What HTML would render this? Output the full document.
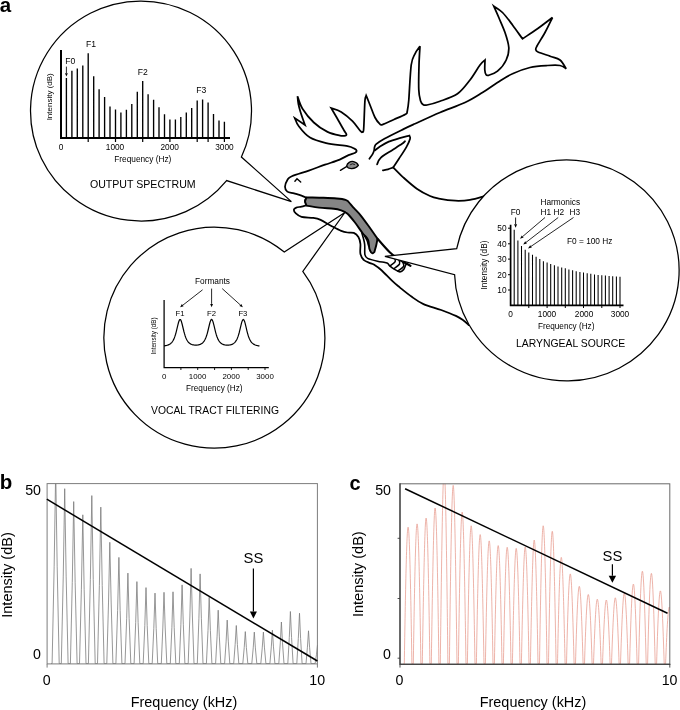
<!DOCTYPE html>
<html lang="en"><head><meta charset="utf-8"><title>Figure</title>
<style>html,body{margin:0;padding:0;background:#fff}svg{display:block}</style></head>
<body>
<svg width="680" height="710" viewBox="0 0 680 710" font-family="'Liberation Sans', sans-serif" fill="#000">
<rect width="680" height="710" fill="#fff"/>
<g fill="none" stroke="#000" stroke-width="1.75" stroke-linejoin="miter" stroke-linecap="round">
<path d="M306.6 197.8C305.8 197.4 303.6 196.3 301.5 195.6C299.4 194.9 296.5 194.1 294.1 193.4C291.7 192.7 288.8 192.7 287.3 191.6C285.8 190.5 285 188.8 285 186.8C285 184.8 286.4 181.6 287.5 179.8C288.6 178.1 288.2 177.8 291.8 176.3C295.4 174.8 303.3 172.5 308.8 170.6C314.3 168.7 319.9 166.5 325 164.7C330.1 162.9 335.8 161.2 339.7 159.6C343.6 158 345.9 156.2 348.5 155.1C351.1 154 353.8 153.6 355.2 152.8C356.6 152.1 356.7 151.3 356.6 150.6C356.5 149.9 355.9 149.3 354.4 148.6C352.9 147.9 352.2 147.2 347.5 146.2C342.8 145.3 332.5 144.6 326.2 143.1C320 141.6 314.6 140.3 310 137.5C305.4 134.7 301.3 129.5 298.8 126.2C296.2 123 295.4 119.5 294.8 118.1L305 125C304.2 122.8 301.6 115.5 300.5 112C299.4 108.5 298.9 106.6 298.4 104C297.9 101.4 297.6 97.5 297.5 96.2C298.3 98.3 299.8 104.4 302.5 108.8C305.2 113.1 309.6 118.6 313.8 122.5C317.9 126.4 323.1 129.7 327.5 131.9C331.9 134.1 337 135 340 135.6C343 136.2 344.4 135.9 345.5 135.6C346.6 135.3 346.6 134.9 346.3 134C346 133.1 345.3 132.7 343.8 130C342.2 127.3 339.1 121.7 337 118C334.9 114.3 332.2 109.8 331.2 108.1C332.9 108.7 337.7 109.7 341.2 111.9C344.8 114.1 349.3 118 352.5 121.2C355.7 124.5 359 129.4 360.6 131.2C362.2 133 361.9 132.2 362.4 132C362.9 131.8 363.3 132.8 363.6 130C363.9 127.2 364.1 120 364.3 115C364.5 110 364.7 103.2 365 100C365.3 96.8 366 96.3 366.2 95.6C366.9 97.2 368.5 101.3 370 105C371.5 108.7 373.4 114.4 375 117.5C376.6 120.6 378.2 122.4 379.5 123.6C380.8 124.8 380.1 125.3 382.5 124.6C384.9 123.9 390.2 121.2 394 119.5C397.8 117.8 403.3 115.5 405.5 114.2C407.7 112.9 406.7 113.9 407.2 111.5C407.7 109.1 408.1 107.8 408.8 100C409.4 92.2 410.2 72.7 411.2 65C412.3 57.3 413.5 56.9 415 53.8C416.5 50.6 419.2 47.5 420 46.2C419.8 49.4 419.2 57.7 419 65C418.8 72.3 418.5 84 418.8 90C419 96 419.9 98.6 420.6 101C421.3 103.4 421.9 103.8 423 104.5C424.1 105.2 424.2 105.5 427 105C429.8 104.5 434.9 103.1 440 101.2C445.1 99.4 452.5 97.3 457.5 93.8C462.5 90.2 466.2 84.8 470 80C473.8 75.2 477.5 68.3 480 65C482.5 61.7 484.2 60.8 485 60C485 61.7 484.6 67.6 484.8 70C485 72.4 485.4 73.7 486 74.6C486.6 75.5 486.6 75.9 488.5 75.3C490.4 74.7 494.5 73.8 497.5 71.2C500.5 68.7 504.4 64 506.2 60C508.1 56 509 52.1 508.8 47.5C508.5 42.9 506.7 37.5 505 32.5C503.3 27.5 500.6 21.9 498.8 17.5C496.9 13.1 494.6 8.1 493.8 6.2C495.2 7.3 499.4 9.4 502.5 12.5C505.6 15.6 509.2 20.6 512.5 25C515.8 29.4 520.8 36.5 522.5 38.8C525 37.1 532.5 32.3 537.5 28.8C542.5 25.2 550 19.4 552.5 17.5C551.2 20 547.6 27.8 545 32.5C542.4 37.2 538.5 43.2 537 46C535.5 48.8 535.6 48.5 535.8 49.5C536 50.5 535.6 50.9 538 52C540.4 53.1 546.3 54.9 550 56.2C553.7 57.6 557.3 57.9 560 60C562.7 62.1 565.2 67.3 566.2 68.8C565.2 68.2 563.1 66 560 65.5C556.9 65 552.5 65.2 547.5 65.5C542.5 65.8 535.8 66.1 530 67.5C524.2 68.9 517.9 71.2 512.5 73.8C507.1 76.2 502.5 79.4 497.5 82.5C492.5 85.6 487.9 89.2 482.5 92.5C477.1 95.8 472.1 99.2 465 102.5C457.9 105.8 448.3 109 440 112.5C431.7 116 421.1 121 415 123.8C408.9 126.5 408.6 126.6 403.5 129.1C398.4 131.6 388.9 136.2 384.4 138.7C379.8 141.2 377.8 142.8 376.2 144.2C374.6 145.6 375 146 374.6 147C374.2 148 374.4 149.2 374.1 150.4C373.8 151.6 373.4 152.7 372.6 154.1C371.8 155.5 369.9 158 369.4 158.8"/>
<path d="M374.9 150.4C375.8 149.8 377.7 148 380 146.5C382.3 145 385.4 143 388.8 141.6C392.2 140.2 397.2 138.9 400.6 137.9C404 136.9 407.9 136.1 409.4 135.7C409.5 136.2 410.6 136.8 410.1 138.7C409.6 140.5 408.3 143.5 406.5 146.8C404.7 150.1 401.3 155.1 399.1 158.5C396.9 161.9 394.2 165.9 393.2 167.4C392.3 167.7 389.7 168.8 388 169.3C386.3 169.8 383.8 170.1 382.9 170.3"/>
<path d="M377.1 164.4C377.7 163.3 378.2 160.1 380.7 157.8C383.1 155.5 388.2 152.7 391.8 150.4C395.4 148.1 399.9 145.3 402.1 143.8C404.3 142.3 404.5 141.6 405 141.2"/>
<path d="M393.2 167.4C394.9 169.1 399.6 174.1 403.5 177.6C407.4 181.1 412.4 185.6 416.8 188.7C421.2 191.8 426.3 194.3 430 196C433.7 197.7 434.6 197.8 438.8 198.6C443 199.4 450.1 200.5 455.3 200.7C460.5 200.9 464.9 200.7 470 199.8C475.1 199 483.3 196.3 486 195.6"/>
<path d="M306.6 197.8C306.4 198.1 305.4 199 305.2 199.6C304.9 200.2 304.9 200.6 305.1 201.5C305.3 202.4 306.4 204.5 306.6 205.1C305.8 205.3 303.2 206.2 301.5 206.6C299.8 207 297.6 207.1 296.3 207.6C295 208.1 294 208.7 293.9 209.6C293.8 210.5 294.3 212 295.6 213.2C296.9 214.4 298.6 216.1 301.5 216.9C304.4 217.7 310 217.4 313.2 217.9C316.4 218.4 317.7 218.6 320.6 219.9C323.6 221.2 327.5 223.9 330.9 225.7C334.3 227.5 338.4 229.8 341.2 230.9C344 232 345.4 232.2 347.5 232.5C349.6 232.8 351.9 232.2 353.8 232.9C355.6 233.7 357.3 235.2 358.4 237C359.5 238.8 360.1 241 360.4 243.8C360.7 246.5 359.8 251 360.4 253.8C361 256.5 362.1 258.4 363.8 260C365.4 261.6 368.3 262.3 370 263.1C371.7 263.9 371.9 263.5 373.8 264.6C375.6 265.8 378.1 267.2 381.2 270C384.4 272.8 389.4 278.3 392.5 281.2C395.6 284.2 396.8 285 400 287.6C403.2 290.2 407.9 294.1 411.8 296.8C415.7 299.6 418.6 301.9 423.5 304.1C428.4 306.3 435.8 308 441.2 310C446.6 312 452.2 314.2 455.9 315.9C459.6 317.6 461.1 318.8 463.2 320.3C465.3 321.8 467.7 324.2 468.6 325"/>
<path d="M294.9 181.2L297 178.7L300.7 182" stroke-width="1.4"/>
<path d="M306.6 197.4C309.4 197.5 318.5 197.6 323.5 197.8C328.5 198 333.1 198.2 336.8 198.5C340.5 198.8 343.6 199.2 345.5 199.8C347.4 200.4 347.1 200.4 348.5 201.8C349.9 203.2 351.9 205.9 354 208.2C356.1 210.5 358.2 212.3 361 215.8C363.8 219.3 368.1 225.4 370.9 229.2C373.6 233 376.4 237.2 377.5 238.8C377.3 239.8 376.8 242.8 376.3 245C375.8 247.2 374.7 250.8 374.4 251.9C374.1 252.1 373.3 253.1 372.8 253.2C372.3 253.3 371.8 253.2 371.2 252.5C370.7 251.8 369.9 250.7 369.4 248.8C368.9 246.8 368.9 242.9 368.4 241C367.9 239.1 367.4 238.7 366.4 237.4C365.4 236.1 364.4 235.5 362.5 233C360.6 230.5 357.3 225.5 355 222.5C352.7 219.5 350.3 216.7 348.8 215C347.2 213.3 346.9 213.3 345.6 212.5C344.3 211.7 343.2 210.9 341.2 210.3C339.2 209.7 337.5 209.2 333.8 208.8C330.1 208.4 323.6 208.1 319.1 207.6C314.6 207.1 308.7 205.9 306.6 205.6C306.4 204.9 305.1 202.9 305.1 201.5C305.1 200.1 306.4 198.1 306.6 197.4Z" fill="#858585" stroke-width="1.9" stroke-linejoin="miter"/>
<path d="M377.5 238.8C379.6 241 386.2 249 390 252.5C393.8 256 396.6 257.8 400 260C403.4 262.2 408.8 264.8 410.5 265.8" stroke-width="2.1"/>
<path d="M361.8 232.8C362.3 234.6 364.1 240.1 364.6 243.8C365.1 247.4 364.4 252.2 364.9 254.6C365.4 257 365.5 257.3 367.6 258.4C369.7 259.5 374.6 260.6 377.5 261.2C380.4 261.9 383.3 262.1 385 262.5C386.7 262.9 386.9 262.8 387.7 263.4C388.5 264 388.8 265.2 390 266.2C391.2 267.3 393.3 268.7 395 269.6C396.7 270.5 398.5 271.9 400 271.9C401.5 271.9 402.9 270.4 403.8 269.4C404.6 268.3 404.9 266.6 405.4 265.6C405.9 264.6 406.6 263.8 406.8 263.4" stroke-width="1.6"/>
<path d="M364.6 236C365 236.8 366.3 238.8 367 240.5C367.7 242.2 368.3 245.1 368.6 246" stroke-width="1.4"/>
<path d="M394.2 256.9C394.4 257.7 395.9 260.1 395.2 261.6C394.5 263.1 390.9 265.1 390 265.8" stroke-width="1.5"/>
<path d="M398.5 258.8C398.7 259.6 400.4 262.3 399.6 263.9C398.9 265.5 394.9 267.8 394 268.6" stroke-width="1.5"/>
<path d="M402.5 261.5C402.7 262.3 404.4 264.8 403.6 266.4C402.8 268 398.8 270.2 397.8 271" stroke-width="1.5"/>
<path d="M346.6 166.2C347.2 162.6 350.6 161 353.6 161.6C356 162.2 357.8 163.8 358.4 165.4C356.6 167.8 354 168.8 351.2 168.6C349 168.4 347.4 167.6 346.6 166.2Z" fill="#8a8a8a" stroke-width="1.3" stroke-linejoin="round"/>
<path d="M350.4 164.6Q352.6 162.9 354.6 164.4" stroke-width="0.8"/>
<path d="M346.9 166.4L340.4 170.4" stroke-width="1.3"/>
</g>
<g fill="#fff" stroke="#000" stroke-width="1.25" stroke-linejoin="miter">
<path d="M226.6 180.6A110.5 110 0 1 1 241.4 157L291.4 201.6Z"/>
<path d="M302.8 271.4A110.5 110.5 0 1 1 284.3 252.1L344.9 212.5Z" fill="none"/>
<path d="M456.7 248.7A112.3 110.5 0 1 1 454.6 274.7L384.9 256.4Z"/>
</g>
<path d="M66.4 77.9V138.1M71.9 70.8V138.1M77.3 68.6V138.1M82.8 65.5V138.1M88.2 53.2V138.1M93.7 76.3V138.1M99.1 89.3V138.1M104.6 97V138.1M110 106.6V138.1M115.5 109.4V138.1M120.9 112.5V138.1M126.4 109.7V138.1M131.8 104.1V138.1M137.3 91.8V138.1M142.7 81V138.1M148.1 94.2V138.1M153.6 99.8V138.1M159 107.2V138.1M164.5 114.3V138.1M169.9 119.6V138.1M175.4 119.6V138.1M180.8 117.1V138.1M186.3 112.5V138.1M191.7 108.1V138.1M197.2 100.4V138.1M202.6 99.5V138.1M208.1 102.6V138.1M213.5 114V138.1M219 120.5V138.1M224.4 121.7V138.1" stroke="#000" stroke-width="1.35" fill="none"/>
<path d="M61 50V139M60.1 138.1H230" stroke="#000" stroke-width="2" fill="none"/>
<path d="M88.2 138V142M115.5 138V142M142.7 138V142M169.9 138V142M197.2 138V142M224.4 138V142M208.1 138V142" stroke="#000" stroke-width="1.2" fill="none"/>
<text x="70.3" y="63.9" font-size="8.6" text-anchor="middle">F0</text>
<text x="91" y="46.9" font-size="8.6" text-anchor="middle">F1</text>
<text x="142.8" y="74.7" font-size="8.6" text-anchor="middle">F2</text>
<text x="201.2" y="93.2" font-size="8.6" text-anchor="middle">F3</text>
<path d="M66.4 66.6L66.4 73.2" stroke="#000" stroke-width="0.85" fill="none"/><path d="M66.4 76.6L65 73.2L67.8 73.2Z" fill="#000"/>
<text x="61" y="150.4" font-size="8.3" text-anchor="middle">0</text>
<text x="115" y="150.4" font-size="8.3" text-anchor="middle">1000</text>
<text x="169.7" y="150.4" font-size="8.3" text-anchor="middle">2000</text>
<text x="224.4" y="150.4" font-size="8.3" text-anchor="middle">3000</text>
<text x="142.8" y="162.4" font-size="8.3" text-anchor="middle">Frequency (Hz)</text>
<text x="142.8" y="188.3" font-size="10.6" text-anchor="middle">OUTPUT SPECTRUM</text>
<text transform="translate(52 96.8) rotate(-90)" font-size="8.0" text-anchor="middle">Intensity (dB)</text>
<path d="M514.2 229.7V305.3M517.9 240.6V305.3M521.5 245.9V305.3M525.2 249.7V305.3M528.8 252.4V305.3M532.5 254.7V305.3M536.1 256.8V305.3M539.8 259.1V305.3M543.4 261.2V305.3M547.1 262.6V305.3M550.7 264.1V305.3M554.4 265.3V305.3M558 266.5V305.3M561.7 267.4V305.3M565.3 268.2V305.3M568.9 269.4V305.3M572.6 270.3V305.3M576.2 271.2V305.3M579.9 272.1V305.3M583.5 272.6V305.3M587.2 273.2V305.3M590.8 273.8V305.3M594.5 274.4V305.3M598.1 275V305.3M601.8 275.3V305.3M605.4 275.6V305.3M609.1 275.9V305.3M612.7 276.2V305.3M616.4 276.5V305.3M620 276.8V305.3" stroke="#000" stroke-width="1.05" fill="none"/>
<path d="M510.6 224.7V306.1M509.8 305.3H623.5" stroke="#000" stroke-width="1.7" fill="none"/>
<path d="M508 290H510.6M508 274.7H510.6M508 259.1H510.6M508 243.8H510.6M508 228.2H510.6M528.8 305V308M547.1 305V308M565.3 305V308M583.5 305V308M601.8 305V308M620 305V308" stroke="#000" stroke-width="1" fill="none"/>
<text x="506.6" y="293" font-size="8.3" text-anchor="end">10</text>
<text x="506.6" y="277.7" font-size="8.3" text-anchor="end">20</text>
<text x="506.6" y="262.1" font-size="8.3" text-anchor="end">30</text>
<text x="506.6" y="246.8" font-size="8.3" text-anchor="end">40</text>
<text x="506.6" y="231.2" font-size="8.3" text-anchor="end">50</text>
<text x="510.6" y="316.6" font-size="8.3" text-anchor="middle">0</text>
<text x="547" y="316.6" font-size="8.3" text-anchor="middle">1000</text>
<text x="584.1" y="316.6" font-size="8.3" text-anchor="middle">2000</text>
<text x="620" y="316.6" font-size="8.3" text-anchor="middle">3000</text>
<text x="566.2" y="328.6" font-size="8.2" text-anchor="middle">Frequency (Hz)</text>
<text x="570.6" y="347.3" font-size="10.4" text-anchor="middle">LARYNGEAL SOURCE</text>
<text x="560.3" y="204.6" font-size="8.3" text-anchor="middle">Harmonics</text>
<text x="515.6" y="215" font-size="8.3" text-anchor="middle">F0</text>
<text x="540.6" y="215" font-size="8.3" text-anchor="start">H1 H2</text>
<text x="569.5" y="215" font-size="8.3" text-anchor="start">H3</text>
<text x="567" y="243.6" font-size="8.3" text-anchor="start">F0 = 100 Hz</text>
<path d="M515.6 217.5L515.6 224.2" stroke="#000" stroke-width="0.9" fill="none"/><path d="M515.6 227.8L514.1 224.2L517.1 224.2Z" fill="#000"/>
<path d="M545 217.5L522.7 236.5" stroke="#000" stroke-width="0.85" fill="none"/><path d="M520 238.8L521.8 235.4L523.6 237.5Z" fill="#000"/>
<path d="M558.2 217.5L526 242.4" stroke="#000" stroke-width="0.85" fill="none"/><path d="M523.2 244.6L525.2 241.3L526.9 243.5Z" fill="#000"/>
<path d="M573.5 217.5L531 246.4" stroke="#000" stroke-width="0.85" fill="none"/><path d="M528 248.4L530.2 245.2L531.8 247.5Z" fill="#000"/>
<text transform="translate(487 265) rotate(-90)" font-size="8.3" text-anchor="middle">Intensity (dB)</text>
<path d="M164.1 299.9V368.1M163.5 367.5H268.8" stroke="#000" stroke-width="1.25" fill="none"/>
<path d="M180.9 367.5V370M197.7 367.5V370M214.6 367.5V370M231.4 367.5V370M248.2 367.5V370M265 367.5V370" stroke="#000" stroke-width="0.9" fill="none"/>
<path d="M164.1 345.9L164.7 345.8L165.3 345.7L165.9 345.6L166.5 345.5L167.1 345.3L167.7 345.1L168.3 344.9L168.9 344.6L169.5 344.3L170.1 343.9L170.7 343.5L171.3 342.9L171.9 342.3L172.5 341.5L173.1 340.5L173.7 339.4L174.3 338L174.9 336.4L175.5 334.5L176.1 332.3L176.7 329.9L177.3 327.4L177.9 324.8L178.5 322.5L179.1 320.7L179.7 319.6L180.3 319.5L180.9 320.2L181.5 321.8L182.1 324L182.7 326.5L183.3 329L183.9 331.5L184.5 333.7L185.1 335.7L185.7 337.4L186.3 338.8L186.9 340L187.5 341L188.1 341.8L188.7 342.5L189.3 343.1L189.9 343.5L190.5 343.9L191.1 344.2L191.7 344.5L192.3 344.7L192.9 344.8L193.5 344.9L194.1 345L194.7 345.1L195.3 345.1L195.9 345.1L196.5 345.1L197.1 345.1L197.7 345L198.3 344.9L198.9 344.8L199.5 344.6L200.1 344.4L200.7 344.1L201.3 343.8L201.9 343.4L202.5 343L203.1 342.4L203.7 341.7L204.3 340.8L204.9 339.8L205.5 338.6L206.1 337.1L206.7 335.3L207.3 333.3L207.9 331L208.5 328.5L209.1 326L209.7 323.5L210.3 321.4L210.9 320L211.5 319.3L212.1 319.7L212.7 320.9L213.3 322.8L213.9 325.1L214.5 327.7L215.1 330.2L215.7 332.6L216.3 334.7L216.9 336.5L217.5 338.1L218.1 339.4L218.7 340.5L219.3 341.4L219.9 342.2L220.5 342.8L221.1 343.3L221.7 343.7L222.3 344.1L222.9 344.3L223.5 344.6L224.1 344.7L224.7 344.9L225.3 345L225.9 345.1L226.5 345.1L227.1 345.2L227.7 345.2L228.3 345.1L228.9 345.1L229.5 345L230.1 344.9L230.7 344.8L231.3 344.6L231.9 344.4L232.5 344.1L233.1 343.8L233.7 343.4L234.3 342.9L234.9 342.3L235.5 341.6L236.1 340.7L236.7 339.7L237.3 338.4L237.9 336.9L238.5 335.1L239.1 333L239.7 330.7L240.3 328.2L240.9 325.6L241.5 323.2L242.1 321.2L242.7 319.9L243.3 319.4L243.9 319.9L244.5 321.2L245.1 323.2L245.7 325.7L246.3 328.2L246.9 330.8L247.5 333.1L248.1 335.2L248.7 337L249.3 338.5L249.9 339.8L250.5 340.9L251.1 341.8L251.7 342.5L252.3 343.1L252.9 343.6L253.5 344.1L254.1 344.4L254.7 344.7L255.3 345L255.9 345.2L256.5 345.4L257.1 345.5L257.7 345.7L258.3 345.8L258.9 345.9L259.5 346" stroke="#000" stroke-width="1.2" fill="none" stroke-linejoin="round"/>
<text x="164.1" y="379.3" font-size="7.9" text-anchor="middle">0</text>
<text x="197.6" y="379.3" font-size="7.9" text-anchor="middle">1000</text>
<text x="231.2" y="379.3" font-size="7.9" text-anchor="middle">2000</text>
<text x="265" y="379.3" font-size="7.9" text-anchor="middle">3000</text>
<text x="214.3" y="391" font-size="8.2" text-anchor="middle">Frequency (Hz)</text>
<text x="215" y="414" font-size="10.3" text-anchor="middle" textLength="128" lengthAdjust="spacingAndGlyphs">VOCAL TRACT FILTERING</text>
<text x="212.5" y="283.6" font-size="8.3" text-anchor="middle">Formants</text>
<text x="180.1" y="315.8" font-size="7.7" text-anchor="middle">F1</text>
<text x="211.6" y="315.8" font-size="7.7" text-anchor="middle">F2</text>
<text x="242.9" y="315.8" font-size="7.7" text-anchor="middle">F3</text>
<path d="M202.6 289.8L182.8 305.2" stroke="#000" stroke-width="0.85" fill="none"/><path d="M180.1 307.3L181.9 304.1L183.6 306.3Z" fill="#000"/>
<path d="M211.6 288.6L211.6 303.9" stroke="#000" stroke-width="0.85" fill="none"/><path d="M211.6 307.3L210.2 303.9L213 303.9Z" fill="#000"/>
<path d="M222.2 288.6L240.4 305" stroke="#000" stroke-width="0.85" fill="none"/><path d="M242.9 307.3L239.4 306.1L241.3 304Z" fill="#000"/>
<text transform="translate(156.2 336) rotate(-90)" font-size="6.3" text-anchor="middle">Intensity (dB)</text>
<text x="-0.3" y="11.9" font-size="20.5" font-weight="bold" fill="#000">a</text>
<text x="-0.2" y="489" font-size="20.5" font-weight="bold" fill="#000">b</text>
<text x="349.4" y="489.5" font-size="20" font-weight="bold" fill="#000">c</text>
<defs><clipPath id="cb"><rect x="47" y="483.5" width="270.5" height="180.5"/></clipPath><clipPath id="cc"><rect x="400" y="483.8" width="270" height="180.4"/></clipPath></defs>
<g clip-path="url(#cb)"><path d="M51.1 663.6L52.1 663.6Q54.4 566.8 55.7 470Q56.9 566.8 59.2 663.6L61.3 663.6Q63.5 576.1 64.7 488.7Q65.9 576.1 68.1 663.6L70.4 663.6Q72.5 582.6 73.7 501.6Q74.9 582.6 77.1 663.6L79.5 663.6Q81.6 589.2 82.8 514.8Q83.9 589.2 86 663.6L88.4 663.6Q90.6 579.6 91.8 495.6Q93 579.6 95.2 663.6L97.5 663.6Q99.6 585.4 100.8 507.1Q102 585.4 104.1 663.6L106.8 663.6Q108.7 603 109.8 542.3Q111 603 112.9 663.6L115.9 663.6Q117.8 610.5 118.9 557.4Q119.9 610.5 121.9 663.6L125 663.6Q126.9 618.4 127.9 573.1Q128.9 618.4 130.8 663.6L134.1 663.6Q135.9 622.6 136.9 581.6Q137.9 622.6 139.8 663.6L143.2 663.6Q145 625.6 146 587.6Q147 625.6 148.8 663.6L152.2 663.6Q154 628.4 155 593.1Q156 628.4 157.7 663.6L161.3 663.6Q163 628 164 592.3Q165 628 166.8 663.6L170.3 663.6Q172.1 627.7 173 591.8Q174 627.7 175.8 663.6L179.3 663.6Q181.1 624.2 182.1 584.9Q183.1 624.2 184.9 663.6L188.2 663.6Q190.1 616 191.1 568.4Q192.2 616 194 663.6L197.3 663.6Q199.1 618.8 200.1 573.9Q201.2 618.8 203 663.6L206.4 663.6Q208.2 630.5 209.2 597.3Q210.2 630.5 211.9 663.6L215.6 663.6Q217.2 636.9 218.2 610.2Q219.2 636.9 220.8 663.6L224.6 663.6Q226.3 641.9 227.2 620.1Q228.2 641.9 229.8 663.6L233.7 663.6Q235.3 644.5 236.3 625.5Q237.2 644.5 238.8 663.6L242.8 663.6Q244.4 647.6 245.3 631.6Q246.2 647.6 247.8 663.6L251.8 663.6Q253.4 647.9 254.3 632.1Q255.2 647.9 256.8 663.6L260.8 663.6Q262.4 647.9 263.4 632.1Q264.3 647.9 265.9 663.6L269.9 663.6Q271.5 646.9 272.4 630.2Q273.3 646.9 274.9 663.6L278.8 663.6Q280.5 642.8 281.4 622Q282.3 642.8 284 663.6L287.8 663.6Q289.5 637.5 290.4 611.5Q291.4 637.5 293.1 663.6L296.8 663.6Q298.5 638.4 299.5 613.2Q300.4 638.4 302.1 663.6L306 663.6Q307.6 647.2 308.5 630.8Q309.4 647.2 311 663.6L315.1 663.6Q316.7 654.3 317.5 645Q318.4 654.3 320 663.6" stroke="#7c7c7c" stroke-width="0.8" fill="none" stroke-linejoin="round"/></g>
<rect x="47.1" y="483.6" width="270.3" height="180.3" fill="none" stroke="#7d7d7d" stroke-width="1"/>
<path d="M47.1 664V667.6M317.4 664V667.6" stroke="#7d7d7d" stroke-width="1" fill="none"/>
<path d="M46.8 499.2L317.4 661" stroke="#000" stroke-width="1.5" fill="none"/>
<text x="41" y="495" font-size="14.2" text-anchor="end">50</text>
<text x="41" y="658.8" font-size="14.2" text-anchor="end">0</text>
<text x="46.8" y="685.4" font-size="14.2" text-anchor="middle">0</text>
<text x="317.2" y="685.4" font-size="14.2" text-anchor="middle">10</text>
<text x="184" y="706.5" font-size="14.2" text-anchor="middle" textLength="106.5" lengthAdjust="spacingAndGlyphs">Frequency (kHz)</text>
<text transform="translate(11.9 575) rotate(-90)" font-size="14.2" text-anchor="middle" textLength="85.5" lengthAdjust="spacingAndGlyphs">Intensity (dB)</text>
<text x="253.4" y="562.6" font-size="14.8" text-anchor="middle">SS</text>
<path d="M253.4 568.4L253.4 611.6" stroke="#000" stroke-width="1.2" fill="none"/><path d="M253.4 618.6L249.9 611.6L256.9 611.6Z" fill="#000"/>
<g clip-path="url(#cc)"><path d="M403.6 663.8L404.3 663.8C405.4 592.8 406.7 527.2 408.1 527.2C409.5 527.2 410.8 592.8 411.9 663.8L413.3 663.8C414.4 591.1 415.7 523.9 417.1 523.9C418.5 523.9 419.8 591.1 420.9 663.8L422.3 663.8C423.5 588 424.8 518.1 426.1 518.1C427.5 518.1 428.8 588 429.9 663.8L431.3 663.8C432.5 582.8 433.8 508 435.1 508C436.5 508 437.8 582.8 438.9 663.8L440.3 663.8C441.5 563 442.8 470 444.1 470C445.5 470 446.8 563 447.9 663.8L449.4 663.8C450.5 571 451.8 485.4 453.2 485.4C454.5 485.4 455.8 571 457 663.8L458.4 663.8C459.5 584.9 460.8 512.1 462.2 512.1C463.5 512.1 464.8 584.9 466 663.8L467.4 663.8C468.5 592 469.8 525.8 471.2 525.8C472.5 525.8 473.8 592 475 663.8L476.4 663.8C477.5 596.6 478.8 534.6 480.2 534.6C481.5 534.6 482.8 596.6 484 663.8L485.4 663.8C486.5 599.9 487.8 540.9 489.2 540.9C490.6 540.9 491.9 599.9 493 663.8L494.4 663.8C495.5 602.3 496.8 545.6 498.2 545.6C499.6 545.6 500.9 602.3 502 663.8L503.4 663.8C504.6 603.2 505.8 547.3 507.2 547.3C508.6 547.3 509.9 603.2 511 663.8L512.4 663.8C513.6 603.8 514.9 548.4 516.2 548.4C517.6 548.4 518.9 603.8 520 663.8L521.4 663.8C522.6 603.1 523.9 547 525.2 547C526.6 547 527.9 603.1 529 663.8L530.4 663.8C531.6 599.5 532.9 540.1 534.2 540.1C535.6 540.1 536.9 599.5 538 663.8L539.5 663.8C540.6 592 541.9 525.8 543.2 525.8C544.6 525.8 545.9 592 547 663.8L548.5 663.8C549.6 594.9 550.9 531.3 552.3 531.3C553.6 531.3 554.9 594.9 556.1 663.8L557.5 663.8C558.6 608.5 559.9 557.4 561.3 557.4C562.6 557.4 563.9 608.5 565.1 663.8L566.5 663.8C567.6 617.1 568.9 573.9 570.3 573.9C571.6 573.9 572.9 617.1 574.1 663.8L575.5 663.8C576.6 623.5 577.9 586.3 579.3 586.3C580.7 586.3 581.9 623.5 583.1 663.8L584.5 663.8C585.6 627.8 586.9 594.5 588.3 594.5C589.7 594.5 591 627.8 592.1 663.8L593.5 663.8C594.7 630.2 595.9 599.2 597.3 599.2C598.7 599.2 600 630.2 601.1 663.8L602.5 663.8C603.7 630.6 605 600 606.3 600C607.7 600 609 630.6 610.1 663.8L611.5 663.8C612.7 629.5 614 597.8 615.3 597.8C616.7 597.8 618 629.5 619.1 663.8L620.5 663.8C621.7 627 623 593.1 624.3 593.1C625.7 593.1 627 627 628.1 663.8L629.6 663.8C630.7 622.4 632 584.1 633.4 584.1C634.7 584.1 636 622.4 637.1 663.8L638.6 663.8C639.7 615.6 641 571.2 642.4 571.2C643.7 571.2 645 615.6 646.2 663.8L647.6 663.8C648.7 616.8 650 573.4 651.4 573.4C652.7 573.4 654 616.8 655.2 663.8L656.6 663.8C657.7 625.9 659 590.9 660.4 590.9C661.7 590.9 663 625.9 664.2 663.8L665.6 663.8C666.7 634.3 668 607 669.4 607C670.8 607 672.1 634.3 673.2 663.8" stroke="#e79a8c" stroke-width="0.75" fill="none" stroke-linejoin="round"/></g>
<rect x="400" y="483.8" width="269.8" height="180.4" fill="none" stroke="#6a6a6a" stroke-width="1"/>
<path d="M400 483.3V664.2H670.3" fill="none" stroke="#2e2e2e" stroke-width="1.1"/>
<path d="M400 664V667.6M669.8 664V667.6M397.6 658.2H400M397.6 598.5H400M397.6 538.3H400" stroke="#3c3c3c" stroke-width="0.9" fill="none"/>
<path d="M405.1 488.7L667.5 613.2" stroke="#000" stroke-width="1.5" fill="none"/>
<text x="391" y="494.8" font-size="14.2" text-anchor="end">50</text>
<text x="391" y="659" font-size="14.2" text-anchor="end">0</text>
<text x="399.5" y="685.4" font-size="14.2" text-anchor="middle">0</text>
<text x="669.6" y="685.4" font-size="14.2" text-anchor="middle">10</text>
<text x="533" y="706.5" font-size="14.2" text-anchor="middle" textLength="106.5" lengthAdjust="spacingAndGlyphs">Frequency (kHz)</text>
<text transform="translate(362.7 574.2) rotate(-90)" font-size="14.2" text-anchor="middle" textLength="85.8" lengthAdjust="spacingAndGlyphs">Intensity (dB)</text>
<text x="612.4" y="561.2" font-size="14.8" text-anchor="middle">SS</text>
<path d="M612.4 564.3L612.4 575.8" stroke="#000" stroke-width="1.2" fill="none"/><path d="M612.4 582.8L608.7 575.8L616.1 575.8Z" fill="#000"/>
</svg>
</body></html>
